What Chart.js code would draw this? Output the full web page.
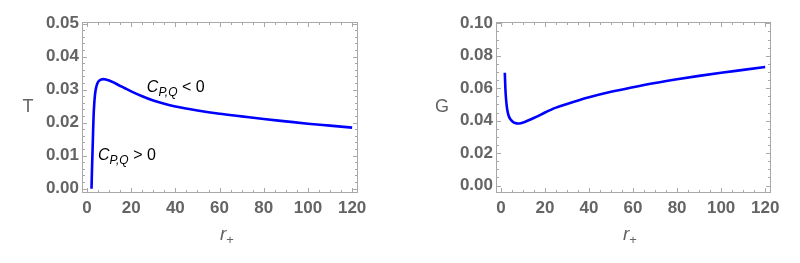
<!DOCTYPE html>
<html><head><meta charset="utf-8">
<script src="https://cdn.jsdelivr.net/npm/chart.js@4.4.0/dist/chart.umd.min.js"></script>
<style>
html,body{margin:0;padding:0;background:#fff;}
#wrap{display:flex;width:800px;height:263px;}
.box{position:relative;width:400px;height:263px;}
canvas{display:block;}
</style></head><body>
<div id="wrap"><div class="box"><canvas id="c1" width="400" height="263"></canvas></div><div class="box"><canvas id="c2" width="400" height="263"></canvas></div></div>
<script>
// ---- data ----
const rT = [2.05, 2.3, 2.55, 2.8, 3.0, 3.3, 3.6, 4.0, 4.5, 5.0, 5.7, 6.5, 7.5, 8.5, 10, 12, 14, 17, 20, 25, 30, 35, 40, 50, 60, 70, 80, 90, 100, 110, 120];
const T  = [0, 0.0065, 0.0121, 0.0180, 0.0222, 0.0258, 0.0283, 0.0302, 0.0315, 0.0323, 0.0328, 0.0331, 0.0332, 0.0331, 0.0328, 0.0322, 0.0315, 0.0305, 0.0295, 0.0280, 0.0267, 0.0257, 0.0249, 0.0237, 0.0227, 0.0219, 0.0211, 0.0204, 0.0197, 0.0191, 0.0185];
const rG = [1.75, 2.0, 2.3, 2.6, 2.9, 3.5, 4.4, 5.5, 6.5, 7.5, 9, 11, 13.4, 16, 20, 25, 30, 40, 50, 60, 70, 80, 90, 100, 110, 120];
const G  = [0.0695, 0.0600, 0.0535, 0.0493, 0.0464, 0.0430, 0.0407, 0.0392, 0.0385, 0.0382, 0.0384, 0.0393, 0.0407, 0.0423, 0.0450, 0.0480, 0.0503, 0.0544, 0.0578, 0.0606, 0.0632, 0.0655, 0.0676, 0.0695, 0.0713, 0.0731];
const xTicks  = [0, 20, 40, 60, 80, 100, 120];
const yTicksT = [0, 0.01, 0.02, 0.03, 0.04, 0.05];
const yTicksG = [0, 0.02, 0.04, 0.06, 0.08, 0.10];
const notesT = [
  {x: 27.1, y: 0.0293, sign: '< 0'},
  {x: 5.0,  y: 0.0086, sign: '> 0'}
];

const FONT = '"Liberation Sans", Arial, sans-serif';
const GRAY = '#646464';
const FRAME = '#a8a8a8';

function drawRich(ctx, x, y, parts){
  let cx = x;
  parts.forEach(p => {
    ctx.font = p.font;
    ctx.fillText(p.t, cx, y + (p.dy || 0));
    cx += ctx.measureText(p.t).width;
  });
}

const framePlugin = {
  id: 'frame',
  afterDraw(chart, args, o){
    const {ctx, chartArea: a} = chart;
    const xs = chart.scales.x, ys = chart.scales.y;
    ctx.save();
    ctx.strokeStyle = FRAME; ctx.lineWidth = 1;
    const L = Math.round(a.left) - 0.5, R = Math.round(a.right) + 0.5;
    const Tp = Math.round(a.top) - 0.5, B = Math.round(a.bottom) + 0.5;
    ctx.strokeRect(L, Tp, R - L, B - Tp);
    const seg = (x1, y1, x2, y2) => { ctx.beginPath(); ctx.moveTo(x1, y1); ctx.lineTo(x2, y2); ctx.stroke(); };
    for (let i = 0; i * o.xMinor <= o.xMax + 1e-9; i++){
      const v = i * o.xMinor;
      const major = Math.abs(v / o.xMajor - Math.round(v / o.xMajor)) < 1e-6;
      const len = major ? 4.5 : 2.5;
      const px = Math.round(xs.getPixelForValue(v)) + 0.5;
      seg(px, B, px, B - len); seg(px, Tp, px, Tp + len);
    }
    for (let i = 0; i * o.yMinor <= o.yMax + 1e-9; i++){
      const v = i * o.yMinor;
      const major = Math.abs(v / o.yMajor - Math.round(v / o.yMajor)) < 1e-6;
      const len = major ? 4.5 : 2.5;
      const py = Math.round(ys.getPixelForValue(v)) + 0.5;
      seg(L, py, L + len, py); seg(R, py, R - len, py);
    }
    ctx.fillStyle = GRAY;
    ctx.font = '18px ' + FONT;
    ctx.textAlign = 'center'; ctx.textBaseline = 'middle';
    ctx.fillText(o.yName, a.left - 55, (a.top + a.bottom) / 2);
    ctx.textAlign = 'left'; ctx.textBaseline = 'alphabetic';
    drawRich(ctx, a.left + o.xNameOff, 240, [
      {t: 'r', font: 'italic 19px ' + FONT},
      {t: '+', font: '13px ' + FONT, dy: 4}
    ]);
    ctx.fillStyle = '#000';
    (o.notes || []).forEach(n => {
      const px = xs.getPixelForValue(n.x), py = ys.getPixelForValue(n.y);
      drawRich(ctx, px, py, [
        {t: 'C', font: 'italic 16px ' + FONT},
        {t: 'P,Q', font: 'italic 12px ' + FONT, dy: 4},
        {t: ' ' + n.sign, font: '16px ' + FONT}
      ]);
    });
    ctx.restore();
  }
};

function makeChart(id, xs, ys, yTicks, yMin, yMax, frameOpts, leftW, rightPad){
  new Chart(document.getElementById(id), {
    type: 'line',
    data: { datasets: [{
      data: xs.map((r, i) => ({x: r, y: ys[i]})),
      borderColor: '#0000ff', borderWidth: 2.6, pointRadius: 0,
      cubicInterpolationMode: 'monotone', fill: false
    }]},
    options: {
      responsive: false, animation: false, devicePixelRatio: 1,
      layout: { padding: { left: 0, right: rightPad, top: 23, bottom: 0 } },
      plugins: { legend: {display: false}, tooltip: {enabled: false}, frame: frameOpts },
      scales: {
        x: {
          type: 'linear', min: -1.8, max: 122.2,
          grid: {display: false, drawTicks: false}, border: {display: false},
          afterBuildTicks: s => { s.ticks = xTicks.map(v => ({value: v})); },
          afterFit: s => { s.height = 71; },
          ticks: { padding: 6, color: GRAY, font: {family: FONT, size: 17, weight: 'bold'}, maxRotation: 0,
                   callback: v => String(v) }
        },
        y: {
          min: yMin, max: yMax,
          grid: {display: false, drawTicks: false}, border: {display: false},
          afterBuildTicks: s => { s.ticks = yTicks.map(v => ({value: v})); },
          afterFit: s => { s.width = leftW; },
          ticks: { padding: 4, color: GRAY, font: {family: FONT, size: 17, weight: 'bold'},
                   callback: v => Number(v).toFixed(2) }
        }
      }
    },
    plugins: [framePlugin]
  });
}

makeChart('c1', rT, T, yTicksT, -0.001, 0.0502,
  {xMajor: 20, xMinor: 5, xMax: 120, yMajor: 0.01, yMinor: 0.002, yMax: 0.05, yName: 'T', xNameOff: 137, notes: notesT},
  83, 43);
makeChart('c2', rG, G, yTicksG, -0.004, 0.1002,
  {xMajor: 20, xMinor: 5, xMax: 120, yMajor: 0.02, yMinor: 0.005, yMax: 0.10, yName: 'G', xNameOff: 126, notes: []},
  97, 30);
</script>
</body></html>
